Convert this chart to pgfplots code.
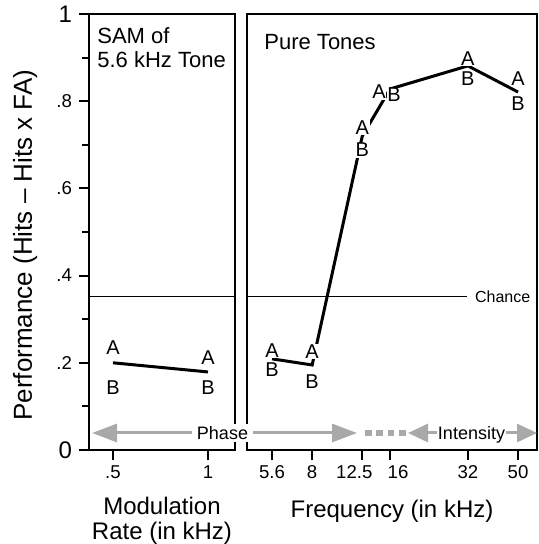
\documentclass[border=0pt]{standalone}
\usepackage{fontspec}
\setmainfont{Liberation Sans}
\usepackage{pgfplots}
\pgfplotsset{compat=1.18}
\usetikzlibrary{arrows.meta}
\definecolor{ArrGray}{HTML}{A9A9A9}

\begin{document}
\begin{tikzpicture}
\pgfplotsset{
  panel/.style={
    scale only axis, height=218pt, ymin=0, ymax=1,
    axis line style={line width=1pt},
    tick style={black, line width=1pt},
    tick align=outside, major tick length=5pt, minor tick length=3.5pt,
    xtick pos=bottom, ytick pos=left,
    tick label style={font=\fontsize{9.3}{10}\selectfont},
    xticklabel style={yshift=0.8pt},
    /pgf/number format/assume math mode=true,
    clip=false,
    xlabel style={font=\fontsize{12}{12.5}\selectfont, align=center,
      inner sep=0pt, anchor=north, at={(axis description cs:0.5,0)}},
  },
  letter/.style={only marks, mark=text, text mark={#1}, text mark as node=true,
    text mark style={font=\fontsize{10}{11}\selectfont, fill=white, inner sep=0.3pt}},
}
% left panel: amplitude-modulated tone
\begin{axis}[panel, name=L, at={(0,0)}, anchor=south west, width=73pt,
  xmin=0.374, xmax=1.142, xtick={0.5,1}, xticklabels={.5,1},
  ytick={0,0.2,0.4,0.6,0.8,1},
  yticklabels={{\fontsize{12}{12}\selectfont 0},.2,.4,.6,.8,{\fontsize{12}{12}\selectfont 1}},
  minor ytick={0.1,0.3,0.5,0.7,0.9},
  xlabel={Modulation\\Rate (in kHz)}, xlabel style={yshift=-23.5pt},
  ylabel={Performance (Hits – Hits x FA)},
  every axis y label/.style={at={(axis description cs:-0.438,0.47)}, rotate=90,
    anchor=center, inner sep=0pt, font=\fontsize{13}{14}\selectfont},
  ]
  \addplot[black, line width=0.5pt] coordinates {(0.374,0.351) (1.142,0.351)};
  \addplot[black, line width=1.5pt] coordinates {(0.5,0.200) (1,0.179)};
  \addplot[letter=A] coordinates {(0.5,0.234) (1,0.211)};
  \addplot[letter=B] coordinates {(0.5,0.144) (1,0.144)};
  \node[anchor=base west, inner sep=0pt, font=\fontsize{11}{12}\selectfont,
    xshift=4pt, yshift=-15pt] at (rel axis cs:0,1) {SAM of};
  \node[anchor=base west, inner sep=0pt, font=\fontsize{11}{12}\selectfont,
    xshift=4pt, yshift=-27pt] at (rel axis cs:0,1) {5.6 kHz Tone};
\end{axis}
% right panel: pure tones
\begin{axis}[panel, name=R, at={(79pt,0)}, anchor=south west, width=145pt,
  xmode=log, xmin=4.48, xmax=59.2, xminorticks=false,
  xtick={5.6,8,12.5,16,32,50},
  xticklabels={5.6,8,{\hspace*{-8pt}12.5},{\hspace*{8pt}16},32,50},
  ytick=\empty,
  xlabel={Frequency (in kHz)}, xlabel style={yshift=-25pt},
  ]
  \addplot[black, line width=0.5pt] coordinates {(4.48,0.351) (31.7,0.351)};
  \addplot[black, line width=1.5pt] coordinates
    {(5.6,0.209) (8,0.195) (12.5,0.720) (16,0.828) (32,0.881) (50,0.821)};
  \addplot[letter=A] coordinates
    {(5.6,0.228) (8,0.226) (12.5,0.739) (14.5,0.821) (32,0.897) (50,0.852)};
  \addplot[letter=B] coordinates
    {(5.6,0.184) (8,0.157) (12.5,0.688) (16.6,0.814) (32,0.851) (50,0.794)};
  \node[anchor=west, inner sep=0pt, font=\fontsize{8}{9}\selectfont]
    at (axis cs:34,0.351) {Chance};
  \node[anchor=base west, inner sep=0pt, font=\fontsize{11}{12}\selectfont,
    xshift=8.5pt, yshift=-18pt] at (rel axis cs:0,1) {Pure Tones};
\end{axis}
% cue arrows along the bottom
\begin{scope}[ArrGray, line width=1.5pt]
  \draw[-{Triangle[length=12.5pt,width=9pt]}] (66.75pt,8.5pt) -- (1.5pt,8.5pt);
  \draw[-{Triangle[length=12.5pt,width=9pt]}] (66.75pt,8.5pt) -- (134pt,8.5pt);
  \draw[line width=3.2pt, dash pattern=on 3.3pt off 2.4pt] (138pt,8.5pt) -- (159pt,8.5pt);
  \draw[{Triangle[length=10pt,width=9pt]}-{Triangle[length=10pt,width=9pt]}]
    (159.5pt,8.5pt) -- (224pt,8.5pt);
\end{scope}
\node[anchor=base, fill=white, inner xsep=2.5pt, inner ysep=1.2pt,
  font=\fontsize{9}{10}\selectfont] at (66.75pt,5.3pt) {Phase};
\node[anchor=base, fill=white, inner xsep=0.6pt, inner ysep=0.5pt,
  font=\fontsize{9}{10}\selectfont] at (191.25pt,5.3pt) {Intensity};
\pgfresetboundingbox
\useasboundingbox (-44.5pt,-47pt) rectangle (224.5pt,225pt);
\end{tikzpicture}
\end{document}
